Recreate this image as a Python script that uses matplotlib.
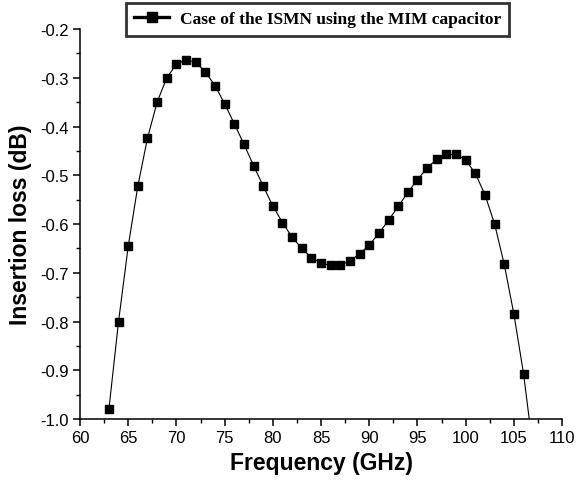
import matplotlib
matplotlib.use("Agg")
import matplotlib.pyplot as plt
from matplotlib.ticker import MultipleLocator

freq = [63, 64, 65, 66, 67, 68, 69, 70, 71, 72, 73, 74, 75, 76, 77, 78, 79, 80,
        81, 82, 83, 84, 85, 86, 87, 88, 89, 90, 91, 92, 93, 94, 95, 96, 97, 98,
        99, 100, 101, 102, 103, 104, 105, 106, 107]
loss = [-0.980, -0.800, -0.646, -0.522, -0.424, -0.350, -0.300, -0.272, -0.263,
        -0.268, -0.288, -0.316, -0.353, -0.394, -0.436, -0.480, -0.522, -0.563,
        -0.597, -0.627, -0.650, -0.669, -0.680, -0.685, -0.684, -0.676, -0.661,
        -0.643, -0.619, -0.592, -0.564, -0.535, -0.509, -0.485, -0.467, -0.457,
        -0.457, -0.469, -0.496, -0.540, -0.600, -0.683, -0.785, -0.907, -1.065]
series_label = "Case of the ISMN using the MIM capacitor"
xlabel = "Frequency (GHz)"
ylabel = "Insertion loss (dB)"

plt.rcParams['font.family'] = ['Liberation Sans', 'DejaVu Sans']

fig = plt.figure(figsize=(5.88, 4.85), dpi=100)
ax = fig.add_axes([0.136, 0.134, 0.820, 0.804])

ax.plot(freq, loss, color='black', linewidth=0.8, marker='s', markersize=6.2,
        markerfacecolor='black', markeredgecolor='black', label=series_label)

ax.set_xlim(60, 110)
ax.set_ylim(-1.0, -0.2)
ax.xaxis.set_major_locator(MultipleLocator(5))
ax.xaxis.set_minor_locator(MultipleLocator(2.5))
ax.yaxis.set_major_locator(MultipleLocator(0.1))
ax.yaxis.set_minor_locator(MultipleLocator(0.05))
ax.yaxis.set_major_formatter(matplotlib.ticker.FuncFormatter(lambda v, p: f"{v:.1f}".replace('\u2212', '-')))

for s in ['top', 'right']:
    ax.spines[s].set_visible(False)
for s in ['left', 'bottom']:
    ax.spines[s].set_linewidth(1.1)

ax.tick_params(which='major', direction='out', length=5, width=1.1, labelsize=12, pad=3)
ax.tick_params(which='minor', direction='out', length=3, width=1.0)

ax.set_xlabel(xlabel, fontsize=16.5, fontweight='bold', labelpad=4)
ax.set_ylabel(ylabel, fontsize=16.5, fontweight='bold', labelpad=6)

leg = fig.legend(loc='center', bbox_to_anchor=(0.540, 0.958), frameon=True,
                 fancybox=False, edgecolor='black', handlelength=2.0,
                 borderpad=0.5, handletextpad=0.6, borderaxespad=0,
                 prop={'family': 'Liberation Serif', 'weight': 'bold', 'size': 12.5})
leg.get_frame().set_linewidth(2.0)
for h in leg.legend_handles:
    h.set_linewidth(2.4)
    h.set_markersize(7.5)

fig.savefig("out.png", dpi=100)
